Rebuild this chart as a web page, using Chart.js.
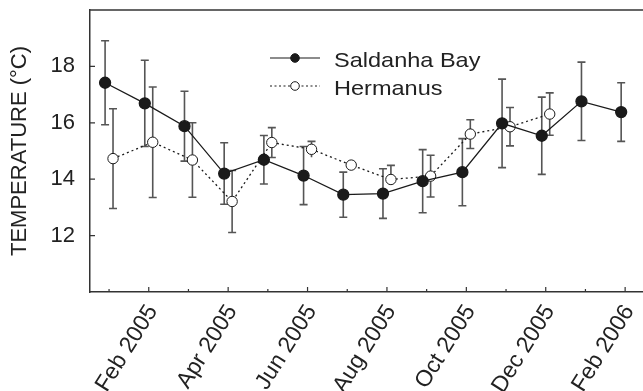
<!DOCTYPE html>
<html>
<head>
<meta charset="utf-8">
<script src="https://cdn.jsdelivr.net/npm/chart.js@4"></script>
<style>
  body { margin: 0; background: #fff; }
  #wrap { width: 643px; height: 391px; }
</style>
</head>
<body>
<div id="wrap"><canvas id="tempChart"></canvas></div>
<script>
// months counted from Jan 2005 = 0
const tickMonths = [0, 1, 2, 3, 4, 5, 6, 7, 8, 9, 10, 11, 12, 13];
const tickLabels = ["", "Feb 2005", "", "Apr 2005", "", "Jun 2005", "", "Aug 2005",
                    "", "Oct 2005", "", "Dec 2005", "", "Feb 2006"];
const yTicks = [12, 14, 16, 18];

const salMonths = [0, 1, 2, 3, 4, 5, 6, 7, 8, 9, 10, 11, 12, 13];
const salMean = [17.42, 16.69, 15.88, 14.20, 14.69, 14.13, 13.45, 13.49, 13.93, 14.25, 15.98, 15.54, 16.76, 16.38];
const salSD = [1.49, 1.53, 1.24, 1.09, 0.86, 1.03, 0.80, 0.88, 1.12, 1.19, 1.57, 1.37, 1.39, 1.04];

const herMonths = [0, 1, 2, 3, 4, 5, 6, 7, 8, 9, 10, 11];
const herMean = [14.73, 15.31, 14.68, 13.21, 15.30, 15.06, 14.50, 13.99, 14.11, 15.60, 15.86, 16.31];
const herUp = [1.77, 1.96, 1.32, 1.10, 0.53, 0.28, 0.0, 0.50, 0.74, 0.51, 0.68, 0.75];
const herDown = [1.77, 1.96, 1.32, 1.10, 0.53, 0.28, 0.0, 0.15, 0.74, 0.51, 0.68, 0.75];

const SHIFT = 0.1;   // the two series are nudged apart along x
const INK = "#1a1a1a";
const FONT = "'Liberation Sans', Arial, sans-serif";

const salPoints = salMonths.map((m, i) => ({ x: m - SHIFT, y: salMean[i], up: salSD[i], down: salSD[i] }));
const herPoints = herMonths.map((m, i) => ({ x: m + SHIFT, y: herMean[i], up: herUp[i], down: herDown[i] }));

const errorBars = {
    id: "errorBars",
    beforeDatasetsDraw(chart) {
        const { ctx, scales: { x, y } } = chart;
        ctx.save();
        ctx.strokeStyle = "#555";
        ctx.lineWidth = 1.6;
        chart.data.datasets.forEach(ds => {
            ds.data.forEach(p => {
                if (!p.up && !p.down) return;
                const px = x.getPixelForValue(p.x);
                const top = y.getPixelForValue(p.y + p.up);
                const bot = y.getPixelForValue(p.y - p.down);
                ctx.beginPath();
                ctx.moveTo(px, top); ctx.lineTo(px, bot);
                ctx.moveTo(px - 4, top); ctx.lineTo(px + 4, top);
                if (p.down > 0.3) { ctx.moveTo(px - 4, bot); ctx.lineTo(px + 4, bot); }
                ctx.stroke();
            });
        });
        ctx.restore();
    }
};

const frameAndLegend = {
    id: "frameAndLegend",
    afterDraw(chart) {
        const { ctx, chartArea: a, scales: { x, y } } = chart;
        ctx.save();
        ctx.strokeStyle = "#333";
        ctx.lineWidth = 1.5;
        // top border
        ctx.beginPath();
        ctx.moveTo(a.left, a.top); ctx.lineTo(a.right, a.top);
        ctx.stroke();
        // inward ticks
        ctx.lineWidth = 1.2;
        ctx.beginPath();
        tickMonths.forEach((m, i) => {
            const px = x.getPixelForValue(m);
            const len = tickLabels[i] ? 5 : 3;
            ctx.moveTo(px, a.bottom); ctx.lineTo(px, a.bottom - len);
        });
        yTicks.forEach(v => {
            const py = y.getPixelForValue(v);
            ctx.moveTo(a.left, py); ctx.lineTo(a.left + 5, py);
        });
        ctx.stroke();

        // legend
        const rows = [
            { label: "Saldanha Bay", y: 58, dash: [], fill: INK },
            { label: "Hermanus", y: 86, dash: [2, 2.5], fill: "#fff" }
        ];
        rows.forEach(r => {
            ctx.strokeStyle = INK;
            ctx.lineWidth = 1.2;
            ctx.setLineDash(r.dash);
            ctx.beginPath();
            ctx.moveTo(270, r.y); ctx.lineTo(320, r.y);
            ctx.stroke();
            ctx.setLineDash([]);
            ctx.beginPath();
            ctx.arc(295, r.y, 4.3, 0, Math.PI * 2);
            ctx.fillStyle = r.fill;
            ctx.fill();
            ctx.lineWidth = 1;
            ctx.stroke();
            // the source text is drawn a little wide
            ctx.save();
            ctx.translate(334, r.y + 9);
            ctx.scale(1.12, 1);
            ctx.fillStyle = "#222";
            ctx.font = "21px " + FONT;
            ctx.textBaseline = "alphabetic";
            ctx.fillText(r.label, 0, 0);
            ctx.restore();
        });
        ctx.restore();
    }
};

new Chart(document.getElementById("tempChart"), {
    type: "line",
    data: {
        datasets: [{
            label: "Saldanha Bay",
            data: salPoints,
            borderColor: INK,
            borderWidth: 1.3,
            pointRadius: 5.5,
            pointBackgroundColor: INK,
            pointBorderColor: INK,
            tension: 0
        }, {
            label: "Hermanus",
            data: herPoints,
            borderColor: INK,
            borderWidth: 1.3,
            borderDash: [2, 3],
            pointRadius: 5.2,
            pointBackgroundColor: "#fff",
            pointBorderColor: INK,
            pointBorderWidth: 1,
            tension: 0
        }]
    },
    options: {
        responsive: true,
        maintainAspectRatio: false,
        animation: false,
        layout: { autoPadding: false, padding: { top: 10, right: 0, left: 0, bottom: 0 } },
        plugins: {
            legend: { display: false },
            tooltip: { enabled: false }
        },
        scales: {
            x: {
                type: "linear",
                min: -0.48,
                max: 13.45,
                afterBuildTicks: scale => { scale.ticks = tickMonths.map(v => ({ value: v })); },
                afterFit: scale => {
                    scale.height = 99;
                    scale.paddingLeft = 0;
                    scale.paddingRight = 0;
                },
                ticks: {
                    autoSkip: false,
                    minRotation: 58,
                    maxRotation: 58,
                    padding: 0,
                    labelOffset: 4,
                    color: "#222",
                    font: { family: FONT, size: 23 },
                    callback: (value, index) => tickLabels[index]
                },
                grid: { display: false },
                border: { display: true, color: "#333", width: 1.5 }
            },
            y: {
                min: 10,
                max: 20,
                afterBuildTicks: scale => { scale.ticks = yTicks.map(v => ({ value: v })); },
                afterFit: scale => {
                    scale.width = 90;
                    scale.paddingTop = 0;
                    scale.paddingBottom = 0;
                },
                ticks: {
                    padding: 7,
                    color: "#222",
                    font: { family: FONT, size: 22 }
                },
                grid: { display: false },
                border: { display: true, color: "#333", width: 1.5 },
                title: {
                    display: true,
                    text: "TEMPERATURE (°C)",
                    color: "#222",
                    font: { family: FONT, size: 22 },
                    padding: { top: 7, bottom: 0 }
                }
            }
        }
    },
    plugins: [errorBars, frameAndLegend]
});
</script>
</body>
</html>
